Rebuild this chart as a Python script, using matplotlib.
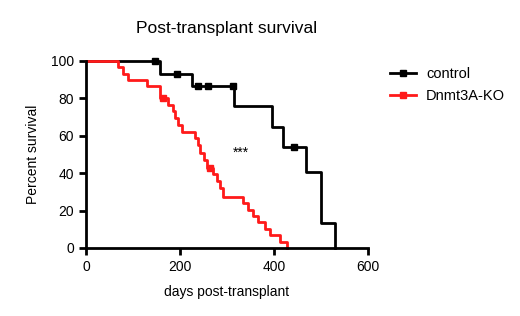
import matplotlib.pyplot as plt

plt.rcParams["font.family"] = ["Liberation Sans", "DejaVu Sans"]

# Kaplan-Meier steps (days, percent survival)
ctrl_days = [0, 157, 225, 315, 396, 420, 468, 500, 530]
ctrl_surv = [100, 93.3, 86.7, 75.8, 64.9, 54.1, 40.6, 13.5, 0]
ctrl_cens_days = [147, 193, 238, 260, 313, 443]
ctrl_cens_surv = [100, 93.3, 86.7, 86.7, 86.7, 54.1]

ko_days = [0, 68, 78, 90, 130, 157, 175, 185, 190, 195, 204, 232, 239, 243, 250,
           258, 270, 278, 285, 292, 334, 345, 356, 365, 380, 391, 413, 427]
ko_surv = [100, 96.7, 93.3, 90.0, 86.7, 80.0, 76.7, 73.0, 69.5, 66.0, 62.0, 58.8,
           55.0, 51.0, 47.0, 43.0, 39.5, 36.0, 32.0, 27.4, 24.0, 20.5, 17.0, 13.7,
           10.3, 7.0, 3.4, 0]
ko_cens_days = [164, 264]
ko_cens_surv = [80.0, 43.0]

fig = plt.figure(figsize=(5.2, 3.16), dpi=100)
ax = fig.add_axes([0.1654, 0.2152, 0.5423, 0.5918])

ax.step(ctrl_days, ctrl_surv, where="post", color="black", lw=2, clip_on=False)
ax.plot(ctrl_cens_days, ctrl_cens_surv, "s", color="black", ms=4.5, clip_on=False)
ax.step(ko_days, ko_surv, where="post", color="#ff1a1a", lw=2, clip_on=False)
ax.plot(ko_cens_days, ko_cens_surv, "s", color="#ff1a1a", ms=4.5, clip_on=False)

# legend proxies
ax.plot([], [], "-s", color="black", lw=2, ms=4.5, label="control")
ax.plot([], [], "-s", color="#ff1a1a", lw=2, ms=4.5, label="Dnmt3A-KO")
handles, labels = ax.get_legend_handles_labels()
ax.legend(handles, labels, loc="upper left", bbox_to_anchor=(1.03, 1.04),
          frameon=False, fontsize=10.5, handlelength=1.8, handletextpad=0.7,
          labelspacing=0.6)

ax.text(330, 51, "***", ha="center", va="center", fontsize=10)

ax.set_xlim(0, 600)
ax.set_ylim(0, 100)
ax.set_xticks([0, 200, 400, 600])
ax.set_yticks([0, 20, 40, 60, 80, 100])
ax.spines["top"].set_visible(False)
ax.spines["right"].set_visible(False)
for s in ["left", "bottom"]:
    ax.spines[s].set_linewidth(2)
ax.tick_params(width=2, length=5, labelsize=10, direction="out", color="black")

ax.set_title("Post-transplant survival", fontsize=12.5, pad=20)
ax.set_xlabel("days post-transplant", fontsize=10, labelpad=8)
ax.set_ylabel("Percent survival", fontsize=10, labelpad=8)

fig.savefig("out.png", dpi=100)
